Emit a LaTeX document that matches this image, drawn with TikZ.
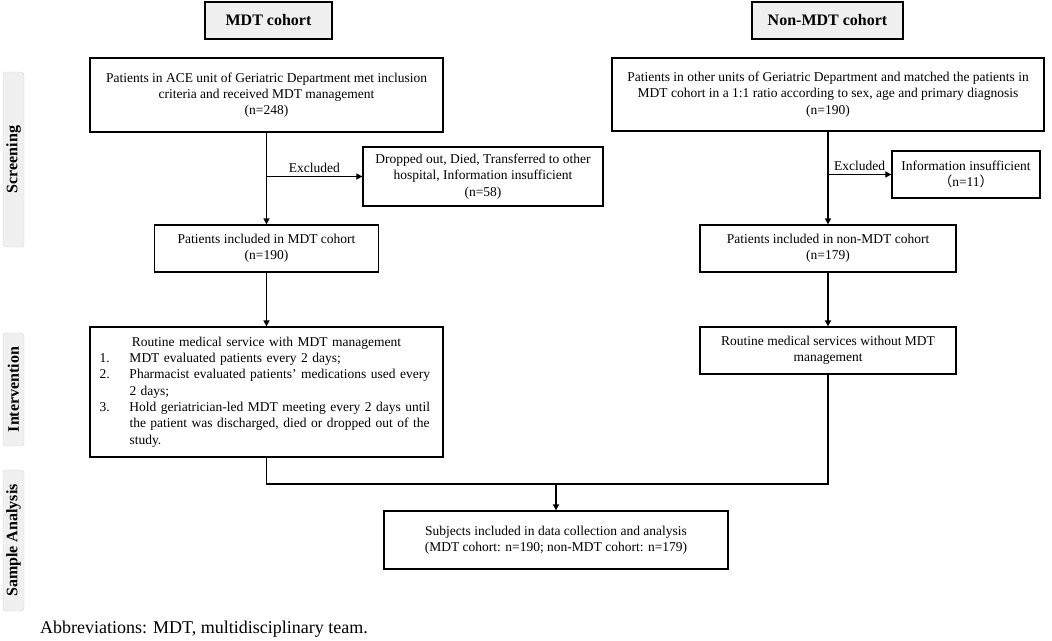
\documentclass[tikz,border=0pt]{standalone}
\usepackage{fontspec}
\setmainfont{Liberation Serif}
\newfontfamily\cjk{Noto Sans CJK SC}
\usetikzlibrary{arrows.meta}
\newcommand\boxfont{\fontsize{13.5}{16.3}\selectfont}
\newcommand\tabfont{\fontsize{16}{18}\selectfont\bfseries}
\definecolor{tabgrey}{HTML}{F0F0F0}
\definecolor{tabline}{HTML}{D6D6D6}
\tikzset{
	flowbox/.style={draw, line width=1.3pt, inner sep=0pt, align=center, font=\boxfont},
	headbox/.style={draw, line width=1.5pt, fill=tabgrey, inner sep=0pt, font=\fontsize{16}{18}\selectfont\bfseries},
	sidetab/.style={draw=tabline, fill=tabgrey, rounded corners=3pt, inner sep=0pt, rotate=90, minimum height=21pt, font=\tabfont},
	conn/.style={line width=1.8pt},
	arr/.style={conn, -{Triangle[length=6pt,width=6pt]}}
}
\begin{document}
\begin{tikzpicture}[x=1pt,y=-1pt]
	\useasboundingbox (0,0) rectangle (1052,640);
	% side tabs
	\node[sidetab, minimum width=175pt] (tabscr) at (13.5,159.5) {Screening};
	\node[sidetab, minimum width=113pt] (tabint) at (13.5,389.5) {Intervention};
	\node[sidetab, minimum width=141pt] (tabsam) at (13.5,540.5) {Sample Analysis};
	% headers
	\node[headbox, minimum width=127pt, minimum height=37pt] (hdrL) at (268.5,20.5) {MDT cohort};
	\node[headbox, minimum width=151pt, minimum height=37pt] (hdrR) at (827.5,20.5) {Non-MDT cohort};
	% MDT column
	\node[flowbox, minimum width=353pt, minimum height=74pt] (topL) at (266.5,95)
		{Patients in ACE unit of Geriatric Department met inclusion\\criteria and received MDT management\\(n=248)};
	\node[flowbox, minimum width=240pt, minimum height=59pt] (exL) at (483,176.5)
		{Dropped out, Died, Transferred to other\\hospital, Information insufficient\\(n=58)};
	\node[flowbox, minimum width=224pt, minimum height=47pt] (inL) at (266.5,248.5)
		{Patients included in MDT cohort\\(n=190)};
	\node[flowbox, align=left, text width=334pt, minimum width=353pt, minimum height=130pt] (intL) at (266.5,392)
		{\makebox[334pt]{Routine medical service with MDT management}\\
		\mbox{\makebox[30pt][l]{1.}MDT evaluated patients every 2 days;}\\
		\mbox{\makebox[30pt][l]{2.}Pharmacist evaluated patients’ medications used every}\\
		\mbox{\hspace*{30pt}2 days;}\\
		\mbox{\makebox[30pt][l]{3.}Hold geriatrician-led MDT meeting every 2 days until}\\
		\mbox{\hspace*{30pt}the patient was discharged, died or dropped out of the}\\
		\mbox{\hspace*{30pt}study.}};
	% non-MDT column
	\node[flowbox, minimum width=432pt, minimum height=73pt] (topR) at (828,94.5)
		{Patients in other units of Geriatric Department and matched the patients in\\MDT cohort in a 1:1 ratio according to sex, age and primary diagnosis\\(n=190)};
	\node[flowbox, minimum width=148pt, minimum height=47pt] (exR) at (966,174.5)
		{Information insufficient\\{\cjk （}n=11{\cjk ）}};
	\node[flowbox, minimum width=256pt, minimum height=47pt] (inR) at (828,248.5)
		{Patients included in non-MDT cohort\\(n=179)};
	\node[flowbox, minimum width=256pt, minimum height=47pt] (intR) at (828,350.5)
		{Routine medical services without MDT\\management};
	% analysis
	\node[flowbox, minimum width=344pt, minimum height=58pt] (final) at (556,540)
		{Subjects included in data collection and analysis\\(MDT cohort: n=190; non-MDT cohort: n=179)};
	\node[anchor=base west, inner sep=0pt, font=\fontsize{18}{20}\selectfont] (abbr) at (40,633)
		{Abbreviations: MDT, multidisciplinary team.};
	% connectors
	\draw[arr] (topL) -- (inL);
	\draw[arr] (topL.south |- exL.west) -- node[midway, above, font=\boxfont] (xlL) {Excluded} (exL.west);
	\draw[arr] (inL) -- (intL);
	\draw[arr] (topR) -- (inR);
	\draw[arr] (topR.south |- exR.west) -- node[midway, above, font=\boxfont] (xlR) {Excluded} (exR.west);
	\draw[arr] (inR) -- (intR);
	\coordinate (join) at (556,484);
	\draw[conn] (intL.south) |- (join);
	\draw[conn] (intR.south) |- (join);
	\draw[arr] (join) -- (final.north);
\end{tikzpicture}
\end{document}
